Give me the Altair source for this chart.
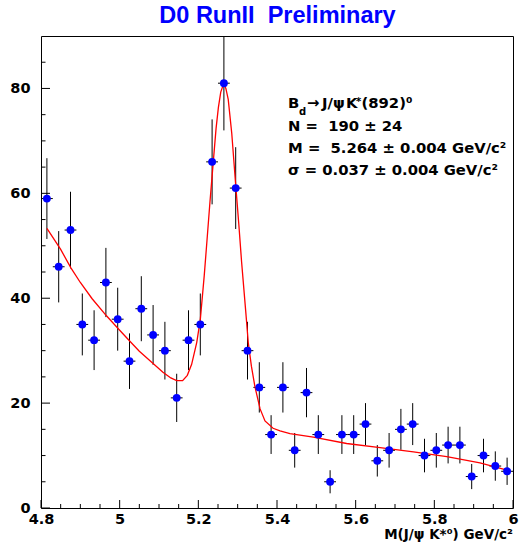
import altair as alt
import pandas as pd

# ---- data ----
mass = [4.815, 4.845, 4.875, 4.905, 4.935, 4.965, 4.995, 5.025, 5.055, 5.085,
        5.115, 5.145, 5.175, 5.205, 5.235, 5.265, 5.295, 5.325, 5.355, 5.385,
        5.415, 5.445, 5.475, 5.505, 5.535, 5.565, 5.595, 5.625, 5.655, 5.685,
        5.715, 5.745, 5.775, 5.805, 5.835, 5.865, 5.895, 5.925, 5.955, 5.985]
counts = [59, 46, 53, 35, 32, 43, 36, 28, 38, 33,
          30, 21, 32, 35, 66, 81, 61, 30, 23, 14,
          23, 11, 22, 14, 5, 14, 14, 16, 9, 11,
          15, 16, 10, 11, 12, 12, 6, 10, 8, 7]
errors = [7.7, 6.8, 7.3, 5.9, 5.7, 6.6, 6.0, 5.3, 6.2, 5.7,
          5.5, 4.6, 5.7, 5.9, 8.1, 9.0, 7.8, 5.5, 4.8, 3.7,
          4.8, 3.3, 4.7, 3.7, 2.2, 3.7, 3.7, 4.0, 3.0, 3.3,
          3.9, 4.0, 3.2, 3.3, 3.5, 3.5, 2.4, 3.2, 2.8, 2.6]
bin_half = [0.015] * len(mass)

fit_x = [4.815, 4.85, 4.876, 4.90, 4.93, 4.967, 5.00, 5.026, 5.05, 5.08,
         5.11, 5.13, 5.145, 5.16, 5.172, 5.183, 5.196, 5.205, 5.215, 5.222,
         5.2297, 5.238, 5.245, 5.251, 5.257, 5.262, 5.266, 5.270, 5.276, 5.285,
         5.295, 5.303, 5.31, 5.3205, 5.327, 5.335, 5.344, 5.357, 5.3695, 5.39,
         5.4077, 5.433, 5.4924, 5.577, 5.662, 5.747, 5.8316, 5.916, 5.992]
fit_y = [53.3, 49.3, 45.8, 43.0, 39.9, 36.6, 33.9, 31.8, 29.9, 27.9,
         25.9, 24.8, 24.3, 24.3, 25.3, 27.4, 31.6, 35.9, 44.3, 51.0,
         58.5, 66.0, 72.3, 76.4, 79.3, 80.4, 80.6, 80.0, 77.9, 71.4,
         61.6, 54.0, 46.9, 37.5, 31.5, 27.0, 23.1, 18.9, 16.6, 15.2,
         14.7, 14.2, 13.5, 12.3, 11.5, 10.7, 9.8, 8.6, 7.1]

y_major = [0, 20, 40, 60, 80]
y_minor = [5, 10, 15, 25, 30, 35, 45, 50, 55, 65, 70, 75, 85]
x_major = [4.8, 5.0, 5.2, 5.4, 5.6, 5.8, 6.0]
x_minor = [4.85, 4.9, 4.95, 5.05, 5.1, 5.15, 5.25, 5.3, 5.35, 5.45, 5.5, 5.55,
           5.65, 5.7, 5.75, 5.85, 5.9, 5.95]

# ---- tables ----
pts = pd.DataFrame({"m": mass, "n": counts, "e": errors, "h": bin_half})
pts["lo"] = pts["n"] - pts["e"]
pts["hi"] = pts["n"] + pts["e"]
pts["xl"] = pts["m"] - pts["h"]
pts["xr"] = pts["m"] + pts["h"]
fit = pd.DataFrame({"m": fit_x, "f": fit_y})

W, H = 472, 472
xs = alt.Scale(domain=[4.8, 6.0], nice=False, zero=False)
ys = alt.Scale(domain=[0, 90], nice=False, zero=False)
LBL = "DejaVu Sans"

xaxis = alt.Axis(values=x_major, format="~g", tickSize=0, domain=False, grid=False,
                 labelFont=LBL, labelFontSize=14.5, labelFontWeight="bold",
                 labelColor="black", labelPadding=4, labelFlush=False, title=None)
yaxis = alt.Axis(values=y_major, format="d", tickSize=0, domain=False, grid=False,
                 labelFont=LBL, labelFontSize=14.5, labelFontWeight="bold",
                 labelColor="black", labelPadding=11, title=None)

base = alt.Chart(pts)

vbars = base.mark_rule(color="black", strokeWidth=1, clip=True).encode(
    x=alt.X("m:Q", scale=xs, axis=xaxis),
    y=alt.Y("lo:Q", scale=ys, axis=yaxis),
    y2="hi:Q",
)
hbars = base.mark_rule(color="black", strokeWidth=1, clip=True).encode(
    x=alt.X("xl:Q", scale=xs), x2="xr:Q", y=alt.Y("n:Q", scale=ys)
)
curve = alt.Chart(fit).mark_line(color="#ff0000", strokeWidth=1.3, clip=True).encode(
    x=alt.X("m:Q", scale=xs), y=alt.Y("f:Q", scale=ys)
)
dots = base.mark_point(filled=True, shape="circle", size=62, color="#0000ff", opacity=1).encode(
    x=alt.X("m:Q", scale=xs), y=alt.Y("n:Q", scale=ys)
)

def yticks(vals, length):
    return alt.Chart(pd.DataFrame({"t": vals})).mark_rule(color="black", strokeWidth=1).encode(
        y=alt.Y("t:Q", scale=ys), x=alt.value(0), x2=alt.value(length))

def xticks(vals, length):
    return alt.Chart(pd.DataFrame({"t": vals})).mark_rule(color="black", strokeWidth=1).encode(
        x=alt.X("t:Q", scale=xs), y=alt.value(H), y2=alt.value(H - length))

one = pd.DataFrame({"k": [0]})

def txt(s, x, y, size=14.8, font=LBL, color="black", align="left", weight="bold"):
    return alt.Chart(one).mark_text(text=s, font=font, fontSize=size, fontWeight=weight,
                                    color=color, align=align, baseline="alphabetic").encode(
        x=alt.value(x), y=alt.value(y))

NB = "\u00a0"
texts = [
    txt("D0 RunII" + NB + " Preliminary", 236.5, -12.7, size=23.5, font="Liberation Sans",
        color="#0000ff", align="center"),
    txt("B", 247, 71.5),
    txt("d", 258, 78.5, size=10),
    txt("\u2192", 266, 71.5),
    txt("J/\u03c8", 281, 71.5),
    txt("K", 305, 71.5),
    txt("*", 315, 69, size=10),
    txt("(892)\u2070", 320.5, 71.5),
    txt("N =" + NB + " 190 \u00b1 24", 247, 94.5),
    txt("M =" + NB + " 5.264 \u00b1 0.004 GeV/c\u00b2", 247, 116.5),
    txt("\u03c3 = 0.037 \u00b1 0.004 GeV/c\u00b2", 247, 138.5),
    txt("M(J/\u03c8 K*\u2070) GeV/c\u00b2", W, 503, size=13.5, align="right"),
]

chart = alt.layer(
    vbars, hbars, curve, dots,
    yticks(y_major, 9), yticks(y_minor, 4.5),
    xticks(x_major, 8), xticks(x_minor, 4),
    *texts,
).properties(
    width=W, height=H,
    autosize=alt.AutoSizeParams(type="none"),
    padding={"left": 41, "top": 36, "right": 7, "bottom": 40},
    background="white",
).configure_view(stroke="black", strokeWidth=1)

chart.save("out.html", embed_options={"renderer": "svg", "actions": False})
